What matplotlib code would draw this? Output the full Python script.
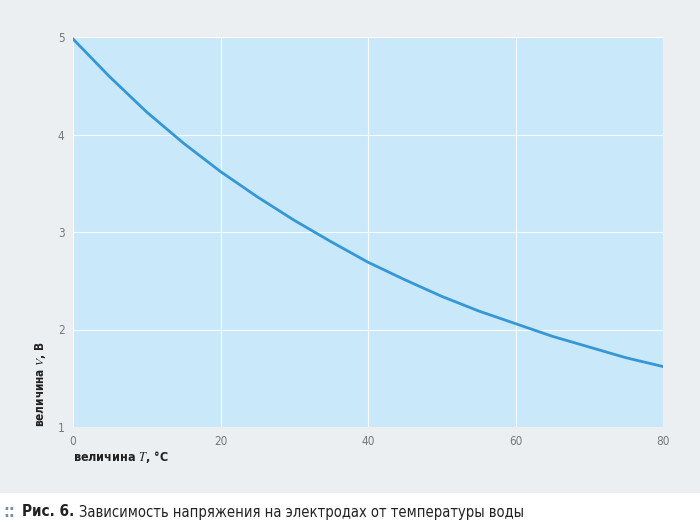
import matplotlib
matplotlib.use('Agg')
import matplotlib.pyplot as plt
from matplotlib.patches import Rectangle

# values
temperature = [0, 5, 10, 15, 20, 25, 30, 35, 40, 45, 50, 55, 60, 65, 70, 75, 80]
voltage = [4.98, 4.59, 4.23, 3.91, 3.62, 3.36, 3.12, 2.90, 2.69, 2.51,
           2.34, 2.19, 2.06, 1.93, 1.82, 1.71, 1.62]
x_ticks = [0, 20, 40, 60, 80]
y_ticks = [1, 2, 3, 4, 5]

xlabel = 'величина $\\mathit{T}$, °C'
ylabel = 'величина $\\mathit{V}$, В'
caption_bold = 'Рис. 6.'
caption_text = 'Зависимость напряжения на электродах от температуры воды'

plt.rcParams['font.family'] = ['DejaVu Sans']
plt.rcParams['font.stretch'] = 'condensed'
plt.rcParams['mathtext.fontset'] = 'stix'

fig = plt.figure(figsize=(7, 5.26), dpi=100)
fig.patch.set_facecolor('white')
fig.patches.append(Rectangle((0, 33 / 526), 1, 1, transform=fig.transFigure,
                             facecolor='#eceff2', edgecolor='none', zorder=-10))

ax = fig.add_axes([73 / 700, 1 - 427 / 526, 590 / 700, 390 / 526])
ax.set_facecolor('#c9e8fa')
ax.plot(temperature, voltage, color='#3597d6', linewidth=2.0)

ax.set_xlim(0, 80)
ax.set_ylim(1, 5)
ax.set_xticks(x_ticks)
ax.set_yticks(y_ticks)
ax.grid(True, color='white', linewidth=0.8, alpha=0.9)
ax.set_axisbelow(True)
for s in ax.spines.values():
    s.set_visible(False)
ax.tick_params(length=0, labelsize=8.5, labelcolor='#777777', pad=6)

fig.text(73 / 700, 1 - 457 / 526, xlabel, fontsize=9, fontweight='bold',
         color='#222222', ha='left', va='center')
fig.text(41 / 700, 1 - 427 / 526, ylabel, fontsize=8.5, fontweight='bold',
         color='#222222', rotation=90, ha='center', va='bottom')

fig.text(3 / 700, 1 - 512 / 526, '::', fontsize=12, fontweight='bold',
         color='#6f8fb0', ha='left', va='center')
t = fig.text(22 / 700, 1 - 512 / 526, caption_bold, fontsize=11,
             fontweight='bold', color='#222222', ha='left', va='center')
fig.canvas.draw()
bb = t.get_window_extent()
fig.text((bb.x1 + 5) / 700, 1 - 512 / 526, caption_text, fontsize=10.5,
         color='#222222', ha='left', va='center')

fig.savefig('out.png', dpi=100)
